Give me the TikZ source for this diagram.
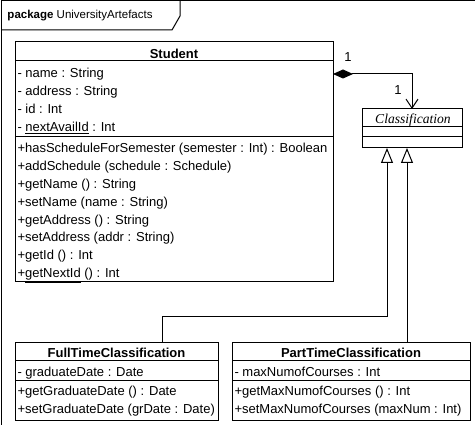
\documentclass[tikz,border=0pt]{standalone}
\usepackage{fontspec}
\setmainfont{Liberation Sans}
\newfontfamily\clsfont{Liberation Serif}
\usetikzlibrary{arrows.meta,calc}
\begin{document}
\begin{tikzpicture}[x=1pt,y=-1pt,line width=1pt,
  box/.style={draw,inner sep=0pt,outer sep=0pt,anchor=north west,fill=white},
  mem/.style={font=\fontsize{13}{15}\selectfont,anchor=base west,inner sep=0pt},
  hdr/.style={font=\fontsize{13}{15}\selectfont\bfseries,anchor=base,inner sep=0pt},
  lbl/.style={font=\fontsize{13}{15}\selectfont,anchor=base,inner sep=0pt},
  gen/.style={-{Triangle[open,length=15pt,width=12pt,fill=white]}},
  comp/.style={{Diamond[length=20pt,width=9pt]}-{Straight Barb[length=9pt,width=12pt]}}
]
\useasboundingbox (0,0) rectangle (475,425);
% package frame
\draw (1,1) rectangle (480,430);
\draw (1,30) -- (172,30) -- (180,16) -- (180,1);
\node[anchor=base west,inner sep=0pt,font=\fontsize{11.5}{13}\selectfont] (pkg) at (7,18.5) {\textbf{package} UniversityArtefacts};

% Student
\node[box,minimum width=318pt,minimum height=240pt] (student) at (15,42) {};
\draw (15,61) -- (333,61);
\draw (15,137) -- (333,137);
\node[hdr] (sname) at (174,58.5) {Student};
\foreach \t [count=\i] in {{- name : String},{- address : String},{- id : Int},{- \underline{nextAvailId} : Int}}
  \node[mem] (sa\i) at (17,{77.7+18*(\i-1)}) {\t};
\foreach \t [count=\i] in {{+hasScheduleForSemester (semester : Int) : Boolean},{+addSchedule (schedule : Schedule)},{+getName () : String},{+setName (name : String)},{+getAddress () : String},{+setAddress (addr : String)},{+getId () : Int},{+\underline{getNextId} () : Int}}
  \node[mem] (so\i) at (17,{152.5+17.9*(\i-1)}) {\t};

% Classification
\node[box,minimum width=100pt,minimum height=39pt] (cls) at (362,109) {};
\draw (362,127) -- (462,127);
\draw (362,137) -- (462,137);
\node[anchor=base,inner sep=0pt,font=\clsfont\itshape\fontsize{13.6}{15}\selectfont] (clsname) at (413,123.5) {Classification};

% FullTimeClassification
\node[box,minimum width=203pt,minimum height=78pt] (ft) at (15,343) {};
\draw (15,361) -- (218,361);
\draw (15,381) -- (218,381);
\node[hdr] (ftname) at (116.5,358) {FullTimeClassification};
\node[mem] (fta1) at (17,376.5) {- graduateDate : Date};
\node[mem] (fto1) at (17,395.5) {+getGraduateDate () : Date};
\node[mem] (fto2) at (17,413.5) {+setGraduateDate (grDate : Date)};

% PartTimeClassification
\node[box,minimum width=238pt,minimum height=78pt] (pt) at (232,343) {};
\draw (232,361) -- (470,361);
\draw (232,381) -- (470,381);
\node[hdr] (ptname) at (351,358) {PartTimeClassification};
\node[mem] (pta1) at (234,376.5) {- maxNumofCourses : Int};
\node[mem] (pto1) at (234,395.5) {+getMaxNumofCourses () : Int};
\node[mem] (pto2) at (234,413.5) {+setMaxNumofCourses (maxNum : Int)};

% composition
\coordinate (compy) at (0,74);
\draw[comp] (student.east |- compy) -| (cls.north);
\node[lbl] (m1) at (348,62) {1};
\node[lbl] (m2) at (398,95) {1};

% generalizations
\coordinate (g1) at (387,317);
\coordinate (g2) at (407,0);
\coordinate (g1x) at (162,0);
\draw[gen] (ft.north -| g1x) |- (g1) -- (cls.south -| g1);
\draw[gen] (pt.north -| g2) -- (cls.south -| g2);
\end{tikzpicture}
\end{document}
